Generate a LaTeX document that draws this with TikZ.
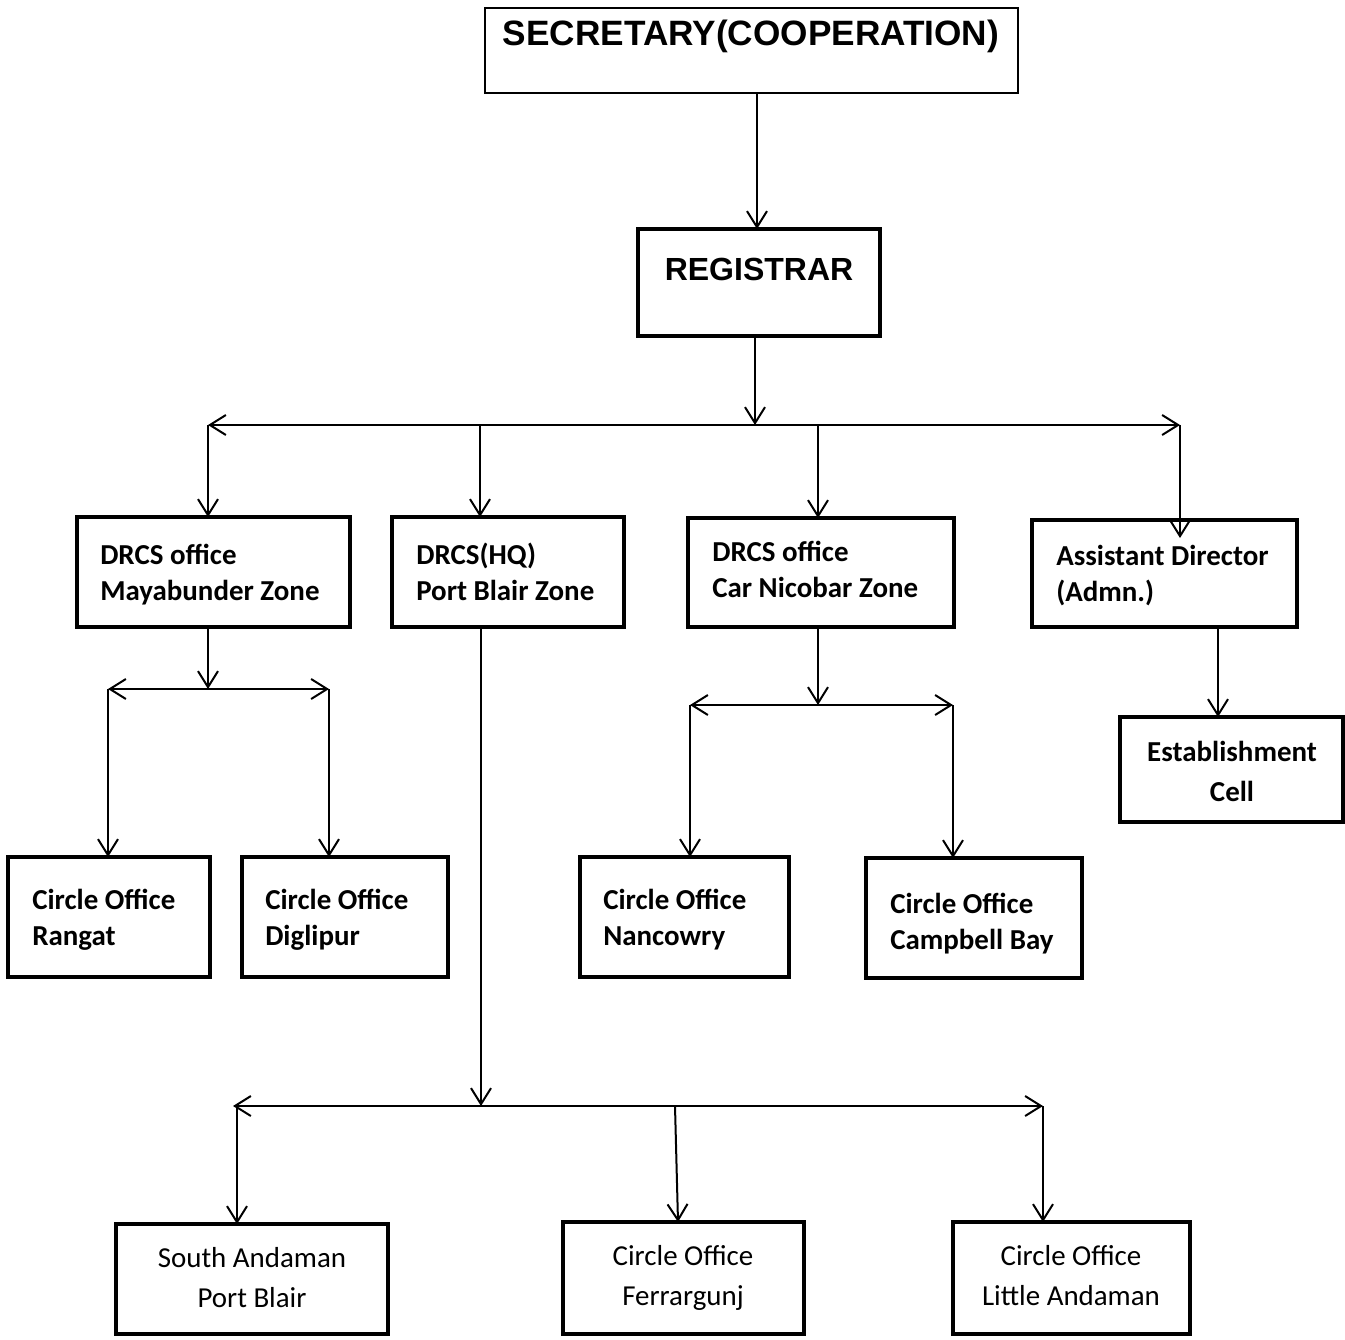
\documentclass[tikz,border=0pt]{standalone}
\usepackage{fontspec}
\setmainfont{Carlito}
\newfontfamily\arialfont{Liberation Sans}
\usetikzlibrary{arrows.meta}
\tikzset{
  bx/.style n args={2}{draw, line width=3.4pt, minimum width=#1*0.75pt, minimum height=#2*0.75pt, inner sep=0pt, outer sep=0pt},
  thinbx/.style n args={2}{draw, line width=1.8pt, minimum width=#1*0.75pt, minimum height=#2*0.75pt, inner sep=0pt, outer sep=0pt},
  lbl/.style={inner sep=0pt, align=left, anchor=west, font=\bfseries\fontsize{21.7}{27}\selectfont},
  clbl/.style={inner sep=0pt, align=center, anchor=center, font=\fontsize{21.7}{30}\selectfont},
  arr/.style={line width=1.5pt, -{Straight Barb[length=12pt,width=15pt]}},
  dbl/.style={line width=1.5pt, {Straight Barb[length=12pt,width=15pt]}-{Straight Barb[length=12pt,width=15pt]}},
  ln/.style={line width=1.5pt}
}
\begin{document}
\begin{tikzpicture}[x=0.75pt,y=-0.75pt]
\useasboundingbox (0,0) rectangle (1345,1339);
% boxes
\node[thinbx={533}{85}] (sec) at (751.5,50.5) {};
\node[bx={242}{107}] (reg) at (759,282.5) {};
\node[bx={273}{110}] (may) at (213.5,572) {};
\node[bx={232}{110}] (hq) at (508,572) {};
\node[bx={266}{109}] (car) at (821,572.5) {};
\node[bx={265}{107}] (ad) at (1164.5,573.5) {};
\node[bx={223}{105}] (est) at (1231.5,769.5) {};
\node[bx={202}{120}] (ran) at (109,917) {};
\node[bx={206}{120}] (dig) at (345,917) {};
\node[bx={209}{120}] (nan) at (684.5,917) {};
\node[bx={216}{120}] (cam) at (974,918) {};
\node[bx={272}{110}] (sa) at (252,1279) {};
\node[bx={241}{112}] (fer) at (683.5,1278) {};
\node[bx={237}{112}] (la) at (1071.5,1278) {};
% texts
\node[inner sep=0pt, anchor=base, font=\arialfont\bfseries\fontsize{26.4}{30}\selectfont] (sect) at (751,45) {SECRETARY(COOPERATION)};
\node[inner sep=0pt, anchor=base, font=\arialfont\bfseries\fontsize{24}{28}\selectfont] (regt) at (759,280) {REGISTRAR};
\node[lbl] (mayt) at (100,575) {DRCS office\\Mayabunder Zone};
\node[lbl] (hqt) at (416,572) {DRCS(HQ)\\Port Blair Zone};
\node[lbl] (cart) at (712,569) {DRCS office\\Car Nicobar Zone};
\node[lbl] (adt) at (1056,576) {Assistant Director\\(Admn.)};
\node[lbl, align=center, anchor=center, font=\bfseries\fontsize{21.7}{30}\selectfont] (estt) at (1232,771) {Establishment\\Cell};
\node[lbl] (rant) at (32,919.5) {Circle Office\\Rangat};
\node[lbl] (digt) at (265,919.5) {Circle Office\\Diglipur};
\node[lbl] (nant) at (603,919.5) {Circle Office\\Nancowry};
\node[lbl] (camt) at (890,923.5) {Circle Office\\Campbell Bay};
\node[clbl] (sat) at (252,1277.5) {South Andaman\\Port Blair};
\node[clbl] (fert) at (683,1278) {Circle Office\\Ferrargunj};
\node[clbl] (lat) at (1071,1275.5) {Circle Office\\Little Andaman};
% junction coordinates
\coordinate (j1) at (755,425);
\coordinate (b1l) at (208,425);
\coordinate (b1r) at (1180,425);
\coordinate (b1a) at (480,425);
\coordinate (b1b) at (818,425);
\coordinate (j2) at (208,689);
\coordinate (b2l) at (108,689);
\coordinate (b2r) at (329,689);
\coordinate (j3) at (818,705);
\coordinate (b3l) at (690,705);
\coordinate (b3r) at (953,705);
\coordinate (j4) at (481,1106);
\coordinate (b4l) at (233,1106);
\coordinate (b4r) at (1043,1106);
\coordinate (b4a) at (675,1106);
% connectors
\draw[arr] (sec.south -| 757,0) -- (reg.north -| 757,0);
\draw[arr] (reg.south -| j1) -- (j1);
\draw[dbl] (b1l) -- (b1r);
\draw[arr] (b1l) -- (b1l |- may.north);
\draw[arr] (b1a) -- (b1a |- hq.north);
\draw[arr] (b1b) -- (b1b |- car.north);
\draw[arr] (b1r) -- ([yshift=-13.5pt]b1r |- ad.north);
% Mayabunder
\draw[arr] (may.south -| j2) -- (j2);
\draw[dbl] (b2l) -- (b2r);
\draw[arr] (b2l) -- (b2l |- ran.north);
\draw[arr] (b2r) -- (b2r |- dig.north);
% Car Nicobar
\draw[arr] (car.south -| j3) -- (j3);
\draw[dbl] (b3l) -- (b3r);
\draw[arr] (b3l) -- (b3l |- nan.north);
\draw[arr] (b3r) -- (b3r |- cam.north);
% Assistant Director
\draw[arr] (ad.south -| 1218,0) -- (est.north -| 1218,0);
% HQ
\draw[arr] (hq.south -| j4) -- (j4);
\draw[dbl] (b4l) -- (b4r);
\draw[arr] (237,1106) -- (sa.north -| 237,0);
\draw[arr] (b4a) -- (fer.north -| 678,0);
\draw[arr] (b4r) -- (b4r |- la.north);
\end{tikzpicture}
\end{document}
